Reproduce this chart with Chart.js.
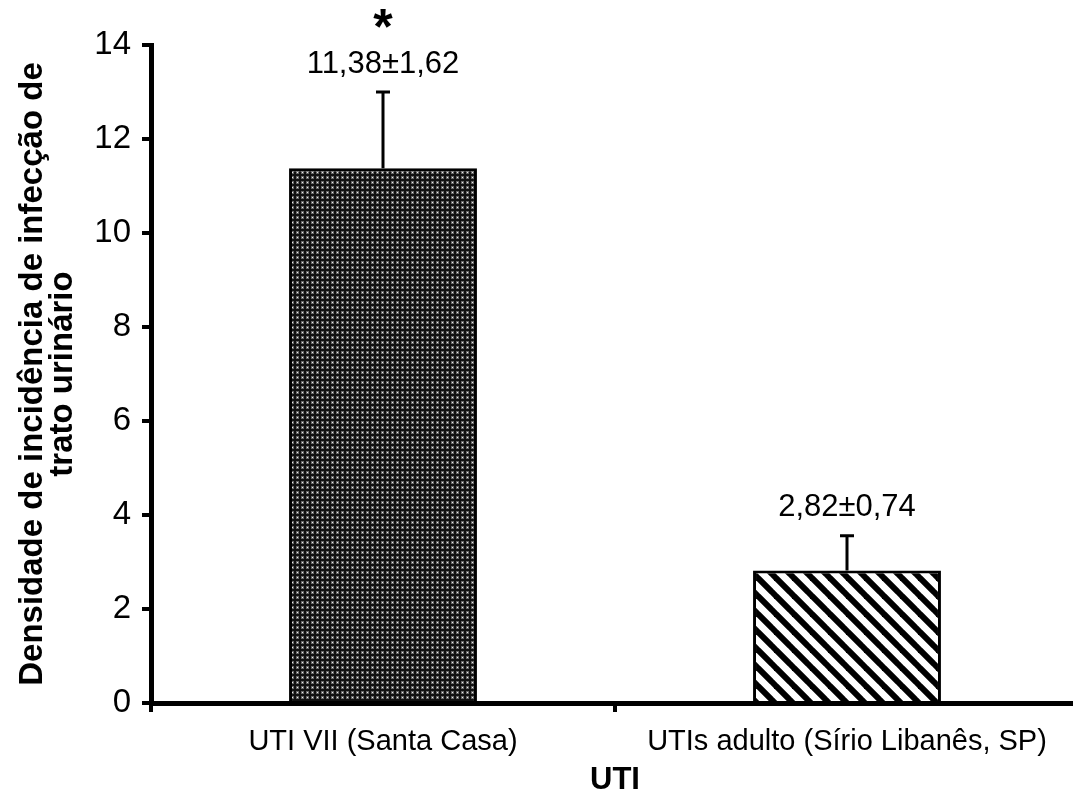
<!DOCTYPE html>
<html>
<head>
<meta charset="utf-8">
<script src="https://cdn.jsdelivr.net/npm/chart.js@4"></script>
<style>
  html, body { margin: 0; padding: 0; background: #fff; overflow: hidden; }
  #wrap { width: 1090px; height: 796px; }
</style>
</head>
<body>
<div id="wrap"><canvas id="chart"></canvas></div>
<script>
const categories = ['UTI VII (Santa Casa)', 'UTIs adulto (Sírio Libanês, SP)'];
const means = [11.38, 2.82];
const errors = [1.62, 0.74];
const valueLabels = ['11,38±1,62', '2,82±0,74'];
const marks = ['*', ''];
const yMin = 0, yMax = 14, yStep = 2;

const FONT = "'Liberation Sans', Arial, sans-serif";

// ---- fill patterns ----

function dotPattern() {
  const c = document.createElement('canvas');
  c.width = 5; c.height = 5;
  const g = c.getContext('2d');
  g.fillStyle = '#111';
  g.fillRect(0, 0, 5, 5);
  g.fillStyle = '#666';
  g.fillRect(1, 1, 3, 3);
  g.fillStyle = '#eee';
  g.fillRect(2, 2, 1, 1);
  return g.createPattern(c, 'repeat');
}

function stripePattern() {
  const s = 18;
  const c = document.createElement('canvas');
  c.width = s; c.height = s;
  const g = c.getContext('2d');
  g.fillStyle = '#fff';
  g.fillRect(0, 0, s, s);
  g.strokeStyle = '#000';
  g.lineWidth = 6;
  [-s, 0, s].forEach(k => {
    g.beginPath();
    g.moveTo(k - 2, -2);
    g.lineTo(k + s + 2, s + 2);
    g.stroke();
  });
  return g.createPattern(c, 'repeat');
}

// ---- error bars + labels ----

const errorBars = {
  id: 'errorBars',
  afterDatasetsDraw(chart) {
    const ctx = chart.ctx;
    const y = chart.scales.y;
    const meta = chart.getDatasetMeta(0);
    ctx.save();
    meta.data.forEach((bar, i) => {
      const x = bar.x;
      const top = y.getPixelForValue(means[i] + errors[i]);
      const base = y.getPixelForValue(means[i]);
      ctx.strokeStyle = '#000';
      ctx.lineWidth = 3;
      ctx.beginPath();
      ctx.moveTo(x, base);
      ctx.lineTo(x, top);
      ctx.moveTo(x - 7, top);
      ctx.lineTo(x + 7, top);
      ctx.stroke();

      ctx.fillStyle = '#000';
      ctx.textAlign = 'center';
      ctx.textBaseline = 'middle';
      ctx.font = '31px ' + FONT;
      ctx.fillText(valueLabels[i], x, top - 28);

      if (marks[i]) {
        ctx.font = 'bold 50px ' + FONT;
        ctx.textBaseline = 'alphabetic';
        ctx.fillText(marks[i], x, top - 48);
      }
    });
    ctx.restore();
  }
};

new Chart(document.getElementById('chart'), {
  type: 'bar',
  data: {
    labels: categories,
    datasets: [{
      data: means,
      backgroundColor: [dotPattern(), stripePattern()],
      borderColor: '#000',
      borderWidth: 3,
      borderSkipped: 'bottom',
      categoryPercentage: 1,
      barPercentage: 0.405,
    }]
  },
  options: {
    responsive: true,
    maintainAspectRatio: false,
    animation: false,
    layout: { padding: { top: 45, right: 11, left: 0, bottom: 0 } },
    plugins: { legend: { display: false }, tooltip: { enabled: false } },
    scales: {
      x: {
        afterFit: s => { s.height = 93; },
        border: { display: true, color: '#000', width: 5 },
        grid: { display: true, drawOnChartArea: false, color: '#000', lineWidth: 4, tickLength: 9 },
        ticks: { color: '#000', font: { family: FONT, size: 29 }, padding: 13, maxRotation: 0 },
        title: { display: true, text: 'UTI', color: '#000', font: { family: FONT, size: 31, weight: 'bold', lineHeight: 1.0 }, padding: { top: 2, bottom: 0 } }
      },
      y: {
        min: yMin,
        max: yMax,
        afterFit: s => { s.width = 151; },
        border: { display: true, color: '#000', width: 5 },
        grid: { display: true, drawOnChartArea: false, color: '#000', lineWidth: 4, tickLength: 9 },
        ticks: { stepSize: yStep, color: '#000', font: { family: FONT, size: 33 }, padding: 11 },
        title: {
          display: true,
          text: ['Densidade de incidência de infecção de', 'trato urinário'],
          color: '#000',
          font: { family: FONT, size: 33, weight: 'bold', lineHeight: 0.91 },
          padding: { top: 18, bottom: 0 }
        }
      }
    }
  },
  plugins: [errorBars]
});
</script>
</body>
</html>
